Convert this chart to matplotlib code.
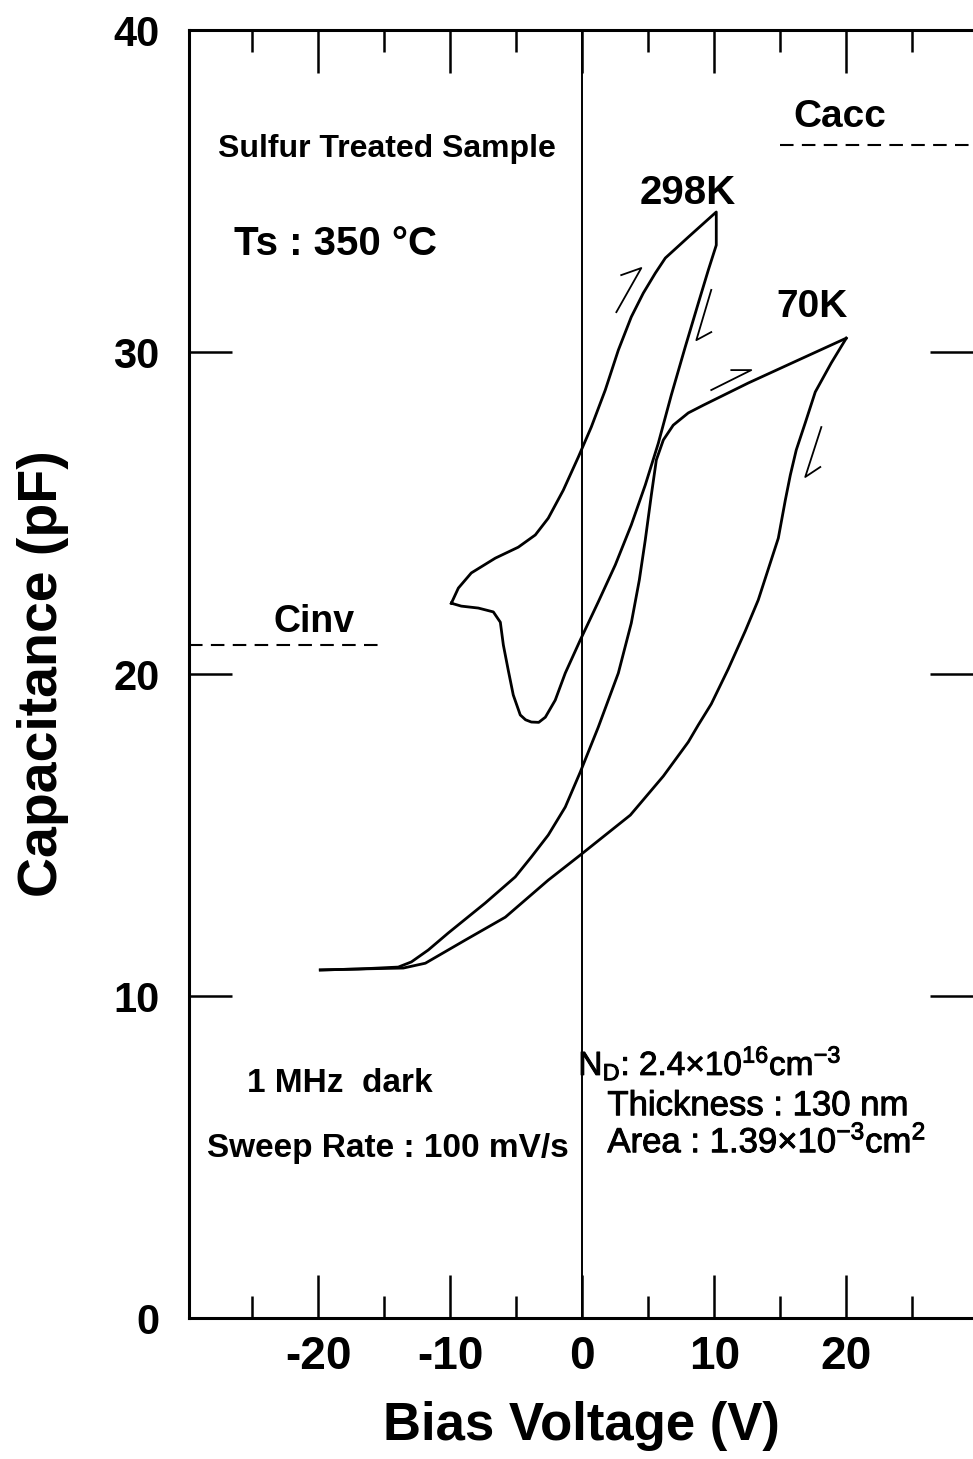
import matplotlib
matplotlib.use('Agg')
import matplotlib.pyplot as plt
import matplotlib.patheffects as pe
from matplotlib.ticker import FixedLocator

plt.rcParams['font.family'] = ['Liberation Sans', 'DejaVu Sans']
plt.rcParams['mathtext.default'] = 'regular'
plt.rcParams['axes.unicode_minus'] = False

# 298 K loop, -10 V -> +10 V -> back (closed)
v_298 = [-9.92, -9.39, -8.41, -6.59, -4.85, -3.56, -2.58, -1.44, -0.30, 0.68,
         1.74, 2.73, 3.71, 4.62, 5.53, 6.29, 8.03, 10.15, 10.15, 9.55,
         8.79, 7.80, 6.74, 5.76, 4.77, 3.71, 2.50, 1.21, -0.15, -1.29,
         -2.05, -2.80, -3.30, -3.86, -4.30, -4.70, -5.23, -5.61, -5.98, -6.21,
         -6.74, -7.88, -9.17, -9.92]
c_298 = [22.20, 22.67, 23.14, 23.60, 23.94, 24.32, 24.84, 25.71, 26.74, 27.67,
         28.82, 30.06, 31.09, 31.83, 32.45, 32.92, 33.57, 34.35, 33.32, 32.55,
         31.52, 30.16, 28.66, 27.17, 25.87, 24.63, 23.39, 22.24, 21.06, 20.03,
         19.19, 18.66, 18.50, 18.51, 18.58, 18.73, 19.35, 20.12, 20.90, 21.61,
         21.93, 22.05, 22.11, 22.20]

# 70 K, forward sweep (-20 V -> +20 V)
v_70_fwd = [-19.85, -16.97, -13.94, -12.95, -11.67, -10.15, -7.35, -5.08, -3.86, -2.58,
            -1.29, -0.15, 1.21, 2.73, 3.71, 4.32, 4.77, 5.23, 5.61, 6.14,
            6.89, 8.03, 9.17, 12.58, 16.36, 19.99]
c_70_fwd = [10.81, 10.84, 10.90, 11.06, 11.43, 11.96, 12.89, 13.70, 14.32, 15.00,
            15.87, 16.96, 18.35, 20.03, 21.58, 22.92, 24.16, 25.56, 26.65, 27.27,
            27.73, 28.11, 28.35, 29.04, 29.75, 30.43]

# 70 K, reverse sweep (+20 V -> -20 V)
v_70_rev = [20.00, 18.86, 17.65, 16.89, 16.21, 15.76, 15.38, 14.85, 14.09, 13.33,
            12.35, 11.06, 9.77, 8.79, 8.03, 6.14, 3.64, -0.15, -2.58, -5.83,
            -8.86, -11.89, -13.56, -16.97, -19.85]
c_70_rev = [30.43, 29.66, 28.76, 27.80, 26.96, 26.18, 25.40, 24.22, 23.26, 22.30,
            21.34, 20.16, 19.07, 18.42, 17.89, 16.83, 15.62, 14.38, 13.60, 12.45,
            11.74, 11.02, 10.87, 10.84, 10.81]

# sweep direction arrows: (stem start, tip, barb end)
arrow_v = [(2.58, 4.47, 2.95), (9.77, 8.64, 9.77), (9.77, 12.80, 11.29), (18.11, 16.89, 18.03)]
arrow_c = [(31.24, 32.61, 32.39), (31.93, 30.37, 30.62), (28.82, 29.44, 29.44), (27.67, 26.12, 26.43)]

# reference levels
c_inv = 20.9
c_acc = 36.43
inv_span = (-29.8, -15.45)
acc_span = (15.0, 29.6)

x_major = [-20, -10, 0, 10, 20]
x_minor = [-25, -15, -5, 5, 15, 25]
y_major = [0, 10, 20, 30, 40]

fig = plt.figure(figsize=(9.73, 14.59), dpi=100)
fig.patch.set_facecolor('white')
ax = fig.add_axes([0.1942, 0.0966, 0.8058, 0.8828])
ax.set_xlim(-29.8, 29.6)
ax.set_ylim(0, 40)

ax.axvline(0, color='black', lw=1.4, zorder=1)

for v, c in [(v_298, c_298), (v_70_fwd, c_70_fwd), (v_70_rev, c_70_rev)]:
    ax.plot(v, c, color='black', lw=2.0, solid_joinstyle='round', zorder=3)

for (v0, v1, v2), (c0, c1, c2) in zip(arrow_v, arrow_c):
    ax.plot([v0, v1, v2], [c0, c1, c2], color='black', lw=1.3, zorder=3)

ax.plot(inv_span, [c_inv, c_inv], color='black', lw=1.5, dashes=(6.5, 4), clip_on=False)
ax.plot(acc_span, [c_acc, c_acc], color='black', lw=1.5, dashes=(6.5, 4), clip_on=False)

# axes frame
for side in ['left', 'top', 'bottom']:
    ax.spines[side].set_linewidth(2.2)
ax.spines['right'].set_visible(False)

ax.xaxis.set_major_locator(FixedLocator(x_major))
ax.xaxis.set_minor_locator(FixedLocator(x_minor))
ax.yaxis.set_major_locator(FixedLocator(y_major))
ax.tick_params(axis='x', which='major', direction='in', length=31, width=1.8,
               top=True, bottom=True, labelsize=33, pad=12)
ax.tick_params(axis='x', which='minor', direction='in', length=16, width=1.8,
               top=True, bottom=True)
ax.tick_params(axis='y', which='major', direction='in', length=31, width=1.8,
               left=True, right=True, labelsize=30, pad=21)
for lbl in ax.get_xticklabels() + ax.get_yticklabels():
    lbl.set_fontweight('bold')

ax.set_xlabel('Bias Voltage (V)', fontsize=38, fontweight='bold', labelpad=16)
ax.set_ylabel('Capacitance (pF)', fontsize=40, fontweight='bold', labelpad=32)

# annotations
ax.text(-27.6, 36.05, 'Sulfur Treated Sample', fontsize=23, fontweight='bold')
ax.text(-26.4, 33.0, 'Ts : 350 °C', fontsize=29, fontweight='bold')
ax.text(4.35, 34.6, '298K', fontsize=29, fontweight='bold')
ax.text(14.7, 31.1, '70K', fontsize=28, fontweight='bold')
ax.text(16.0, 37.0, 'Cacc', fontsize=28, fontweight='bold')
ax.text(-23.4, 21.3, 'Cinv', fontsize=27, fontweight='bold')
ax.text(-25.4, 7.02, '1 MHz  dark', fontsize=24, fontweight='bold')
ax.text(-28.4, 5.0, 'Sweep Rate : 100 mV/s', fontsize=24, fontweight='bold')

thick = [pe.withStroke(linewidth=0.7, foreground='black')]
ax.text(-0.3, 7.55, r'N$_D$: 2.4×10$^{16}$cm$^{-3}$', fontsize=24, path_effects=thick)
ax.text(1.9, 6.3, 'Thickness : 130 nm', fontsize=25, path_effects=thick)
ax.text(1.9, 5.15, r'Area : 1.39×10$^{-3}$cm$^2$', fontsize=25, path_effects=thick)

fig.savefig('out.png', dpi=100, facecolor='white')
